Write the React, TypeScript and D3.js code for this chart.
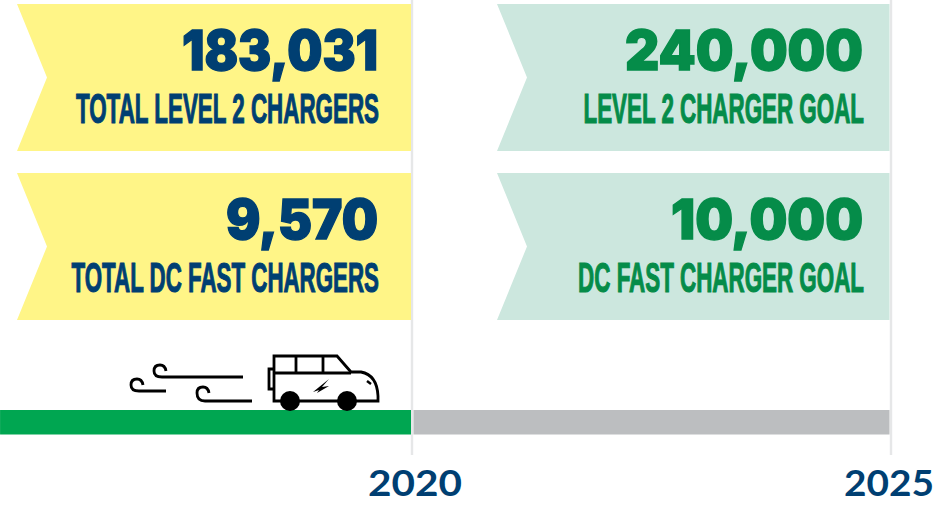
import React from "react";
import * as d3 from "d3";

const years = [2020, 2025];
const currentLabels = ["TOTAL LEVEL 2 CHARGERS", "TOTAL DC FAST CHARGERS"];
const goalLabels = ["LEVEL 2 CHARGER GOAL", "DC FAST CHARGER GOAL"];
const currentValues = [183031, 9570];
const goalValues = [240000, 10000];
const progressYear = 2020;
const startYear = 2015.7;

const W = 949, H = 505;
const x = d3.scaleLinear().domain([2020, 2025]).range([412, 891]);
const band = d3.scaleBand<number>().domain([0, 1]).range([4, 320]).paddingInner(0.13).paddingOuter(0);
const fmt = d3.format(",");
const NAVY = "#003F72", GREEN = "#058C49";
const NUMF = "Inter, 'Noto Sans', sans-serif";
const NARROW = "'Liberation Sans', sans-serif";
const YEARF = "Lato, 'Noto Sans', sans-serif";

const ctx = document.createElement("canvas").getContext("2d")!;
function natural(text: string, weight: number, size: number, family: string) {
  ctx.font = `${weight} ${size}px ${family}`;
  return ctx.measureText(text).width;
}

function Banner(p: { x0: number; x1: number; y: number; h: number; fill: string }) {
  const d = d3.path();
  d.moveTo(p.x0, p.y); d.lineTo(p.x1, p.y); d.lineTo(p.x1, p.y + p.h); d.lineTo(p.x0, p.y + p.h);
  d.lineTo(p.x0 + 30, p.y + p.h * 0.5); d.closePath();
  return <path d={d.toString()} fill={p.fill} />;
}

const numWidths = [[196, 238], [152, 192]];
const labelWidths = [[304, 281], [308, 286]];
const yearRights = [462, 934];
const yearWidths = [94, 90];

function Fitted(p: { right: number; y: number; width: number; size: number; family: string; weight: number; fill: string; bold: number; text: string }) {
  const sx = p.width / natural(p.text, p.weight, p.size, p.family);
  return (
    <text transform={`translate(${p.right},${p.y}) scale(${sx},1)`} textAnchor="end" fontFamily={p.family} fontWeight={p.weight}
      fontSize={p.size} fill={p.fill} stroke={p.fill} strokeWidth={p.bold}>{p.text}</text>
  );
}

function Car() {
  return (
    <g fill="none" stroke="#000" strokeWidth={2.8}>
      <path d="M143 385 q-1 -6 -6 -6 q-6 0 -6 6 q0 6 8 6 h27" />
      <path d="M166 371 q-1 -6 -6 -6 q-6 0 -6 6 q0 6 8 6 h81" />
      <path d="M209 393 q-1 -6 -6 -6 q-6 0 -6 6 q0 8 8 8 h47" />
      <path d="M274 401 V356 H337 L351 372 H361 Q377 375 378 396 V401 Z" fill="#fff" />
      <path d="M274 373 H351 M296 356 V373 M323 356 V373" />
      <path d="M274 369 H269 V389 H274" />
      <path d="M367 381 l4 3" strokeWidth={2.4} />
      <path d="M329 379 L313 392 L319 390 L317 393 L329 386 L322 387 Z" fill="#000" stroke="none" />
      <circle cx={290} cy={401} r={10} fill="#000" stroke="none" />
      <circle cx={347} cy={401} r={10} fill="#000" stroke="none" />
    </g>
  );
}

export default function App() {
  return (
    <svg width={W} height={H} style={{ position: "absolute", left: 0, top: 0, background: "#fff" }}>
      {years.map(y => (
        <line key={y} x1={x(y)} x2={x(y)} y1={0} y2={455} stroke="#E6E7E8" strokeWidth={2.4} />
      ))}
      {[0, 1].map(i => {
        const y = band(i)!, h = band.bandwidth();
        return (
          <g key={i}>
            <Banner x0={17} x1={x(2020) - 1} y={y} h={h} fill="#FFF587" />
            <Banner x0={497} x1={x(2025) - 1.5} y={y} h={h} fill="#CCE7DE" />
            <Fitted right={378} y={y + 66} width={numWidths[i][0]} size={55} family={NUMF} weight={900} fill={NAVY} bold={1.4} text={fmt(currentValues[i])} />
            <Fitted right={863} y={y + 66} width={numWidths[i][1]} size={55} family={NUMF} weight={900} fill={GREEN} bold={1.4} text={fmt(goalValues[i])} />
            <Fitted right={379} y={y + 119} width={labelWidths[i][0]} size={43} family={NARROW} weight={700} fill={NAVY} bold={1.2} text={currentLabels[i]} />
            <Fitted right={864} y={y + 119} width={labelWidths[i][1]} size={43} family={NARROW} weight={700} fill={GREEN} bold={1.2} text={goalLabels[i]} />
          </g>
        );
      })}
      <rect x={x(startYear)} y={410} width={x(progressYear) - 1 - x(startYear)} height={24.5} fill="#00A651" />
      <rect x={x(2020) + 1.5} y={410} width={x(2025) - x(2020) - 3} height={24.5} fill="#BCBEC0" />
      <Car />
      {years.map((y, i) => (
        <Fitted key={y} right={yearRights[i]} y={496} width={yearWidths[i]} size={37} family={YEARF} weight={700} fill={NAVY} bold={0} text={String(y)} />
      ))}
    </svg>
  );
}
